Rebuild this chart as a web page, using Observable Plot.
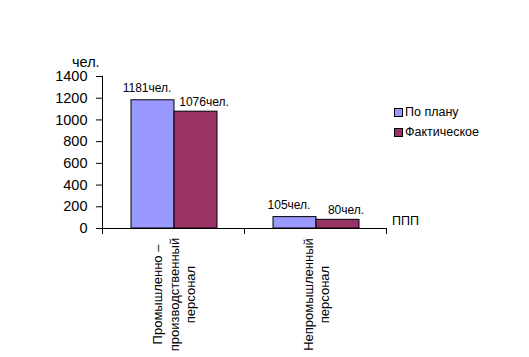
<!DOCTYPE html>
<html><head><meta charset="utf-8">
<script src="https://cdn.jsdelivr.net/npm/d3@7"></script>
<script src="https://cdn.jsdelivr.net/npm/@observablehq/plot@0.6"></script>
<style>
body{margin:0;background:#fff;font-family:"Liberation Sans",Arial,sans-serif;color:#000;}
#wrap{position:relative;width:529px;height:357px;overflow:hidden;}
#wrap svg{position:absolute;left:0;top:0;}
.note{position:absolute;white-space:nowrap;line-height:1;}
.leg{position:absolute;left:394px;font-size:12.5px;line-height:1;white-space:nowrap;display:flex;align-items:center;}
.sw{width:7px;height:7px;border:1px solid #000;margin-right:2px;}
</style></head><body><div id="wrap"></div>
<script>
const categories = ["Промышленно –\nпроизводственный\nперсонал", "Непромышленный\nперсонал"];
const seriesNames = ["По плану", "Фактическое"];
const planValues = [1181, 105];
const factValues = [1076, 80];
const yTicks = [0, 200, 400, 600, 800, 1000, 1200, 1400];
const unit = "чел.";
const axisNote = "ППП";
const colors = ["#9999FF", "#993366"];

const data = categories.flatMap((c, i) => [
  {cat: c, series: seriesNames[0], value: planValues[i]},
  {cat: c, series: seriesNames[1], value: factValues[i]}
]);
const lbl = d => d.value + unit;

const chart = Plot.plot({
  width: 529, height: 357,
  marginLeft: 102, marginRight: 143, marginTop: 76, marginBottom: 129,
  style: {fontFamily: '"Liberation Sans", Arial, sans-serif', color: "#000", background: "transparent"},
  fx: {domain: categories, padding: 0},
  x: {domain: seriesNames, paddingInner: 0, paddingOuter: 0.632, align: 0.52, axis: null},
  y: {domain: [0, 1400], axis: null},
  color: {domain: seriesNames, range: colors},
  marks: [
    Plot.barY(data, {fx: "cat", x: "series", y: "value", fill: "series", stroke: "#000", strokeWidth: 1}),
    Plot.ruleY([0], {stroke: "#000"}),
    Plot.frame({anchor: "left", facetAnchor: "left", stroke: "#000"}),
    Plot.axisY({ticks: yTicks, tickFormat: d => String(d), tickSize: 6, tickPadding: 9, fontSize: 14.5, label: null}),
    Plot.axisFx({anchor: "bottom", tickSize: 6, tickFormat: () => "", label: null, dx: -71}),
    Plot.axisFx({anchor: "bottom", tickSize: 6, tickFormat: () => "", label: null, dx: 71}),
    Plot.text(categories, {fx: d => d, text: d => d, frameAnchor: "bottom", lineAnchor: "middle", dy: 66, rotate: -90, fontSize: 13, lineHeight: 1.25, textAnchor: "middle", fill: "#000"}),
    Plot.text(data.filter(d => d.series === seriesNames[0]), {fx: "cat", x: "series", y: "value", text: lbl, lineAnchor: "bottom", dy: -8, dx: -6, fontSize: 12, fill: "#000"}),
    Plot.text(data.filter(d => d.series === seriesNames[1]), {fx: "cat", x: "series", y: "value", text: lbl, lineAnchor: "bottom", dy: -6, dx: 8, fontSize: 12, fill: "#000"})
  ]
});
const wrap = document.getElementById("wrap");
wrap.appendChild(chart);

const u = document.createElement("div");
u.className = "note"; u.textContent = unit;
u.style.cssText = "left:72px;top:55px;font-size:14.5px;";
wrap.appendChild(u);

const n = document.createElement("div");
n.className = "note"; n.textContent = axisNote;
n.style.cssText = "left:392px;top:215px;font-size:12.5px;";
wrap.appendChild(n);

seriesNames.forEach((s, i) => {
  const row = document.createElement("div");
  row.className = "leg";
  row.style.top = (106 + i * 20) + "px";
  const sw = document.createElement("span");
  sw.className = "sw"; sw.style.background = colors[i];
  const t = document.createElement("span"); t.textContent = s;
  row.appendChild(sw); row.appendChild(t);
  wrap.appendChild(row);
});
</script></body></html>
